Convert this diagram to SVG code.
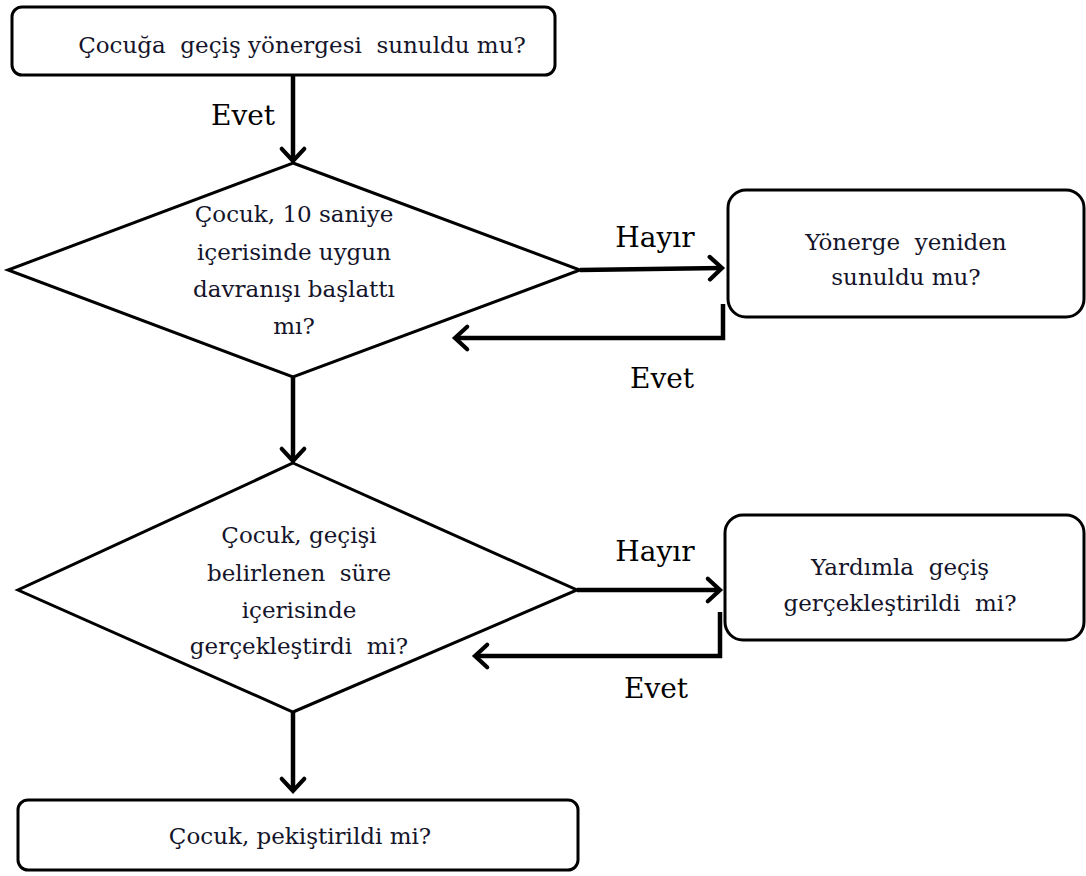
<svg xmlns="http://www.w3.org/2000/svg" width="1086" height="876" viewBox="0 0 1086 876" xml:space="preserve">
<style>
.box{fill:#fff;stroke:#000;stroke-width:3}
.t{font-family:"DejaVu Serif","Liberation Serif",serif;font-size:23px;fill:#14142a;text-anchor:middle;white-space:pre}
.lbl{font-family:"DejaVu Serif","Liberation Serif",serif;font-size:28px;fill:#000;text-anchor:middle}
.c{fill:none;stroke:#000;stroke-width:4.5}
</style>
<defs>
<marker id="ah" markerUnits="userSpaceOnUse" markerWidth="30" markerHeight="30" viewBox="-16 -16 20 32" refX="0" refY="0" orient="auto">
<path d="M-13,-12 L0,0 L-13,12" fill="none" stroke="#000" stroke-width="4.5" stroke-linecap="round" stroke-linejoin="miter"/>
</marker>
</defs>
<rect width="1086" height="876" fill="#fff"/>
<g id="connectors">
<path class="c" d="M293,75 V161" marker-end="url(#ah)"/>
<path class="c" d="M580,270 L722,268" marker-end="url(#ah)"/>
<path class="c" d="M723,304 V338 H455" marker-end="url(#ah)"/>
<path class="c" d="M293,377 V461" marker-end="url(#ah)"/>
<path class="c" d="M577,590 L720,590" marker-end="url(#ah)"/>
<path class="c" d="M720,612 V656 H475" marker-end="url(#ah)"/>
<path class="c" d="M293,712 V791" marker-end="url(#ah)"/>
<text class="lbl" x="243" y="125">Evet</text>
<text class="lbl" x="655" y="247">Hayır</text>
<text class="lbl" x="662" y="388">Evet</text>
<text class="lbl" x="655" y="561">Hayır</text>
<text class="lbl" x="656" y="698">Evet</text>
</g>
<g id="start">
<rect class="box" x="12" y="7" width="543" height="68" rx="10"/>
<text class="t" x="302" y="53">Çocuğa  geçiş yönergesi  sunuldu mu?</text>
</g>
<g id="decision1">
<polygon class="box" points="293,163 580,270 293,377 8,270"/>
<text class="t" x="294" y="222">Çocuk, 10 saniye</text>
<text class="t" x="294" y="260">içerisinde uygun</text>
<text class="t" x="294" y="297">davranışı başlattı</text>
<text class="t" x="294" y="334">mı?</text>
</g>
<g id="repeat">
<rect class="box" x="728" y="190" width="356" height="127" rx="18"/>
<text class="t" x="906" y="250">Yönerge  yeniden</text>
<text class="t" x="906" y="285">sunuldu mu?</text>
</g>
<g id="decision2">
<polygon class="box" points="293,463 577,590 293,712 18,590"/>
<text class="t" x="299" y="543">Çocuk, geçişi</text>
<text class="t" x="299" y="581">belirlenen  süre</text>
<text class="t" x="299" y="618">içerisinde</text>
<text class="t" x="299" y="654">gerçekleştirdi  mi?</text>
</g>
<g id="assist">
<rect class="box" x="725" y="515" width="359" height="125" rx="18"/>
<text class="t" x="900" y="575">Yardımla  geçiş</text>
<text class="t" x="900" y="611">gerçekleştirildi  mi?</text>
</g>
<g id="end">
<rect class="box" x="18" y="800" width="560" height="70" rx="10"/>
<text class="t" x="300" y="844">Çocuk, pekiştirildi mi?</text>
</g>
</svg>
